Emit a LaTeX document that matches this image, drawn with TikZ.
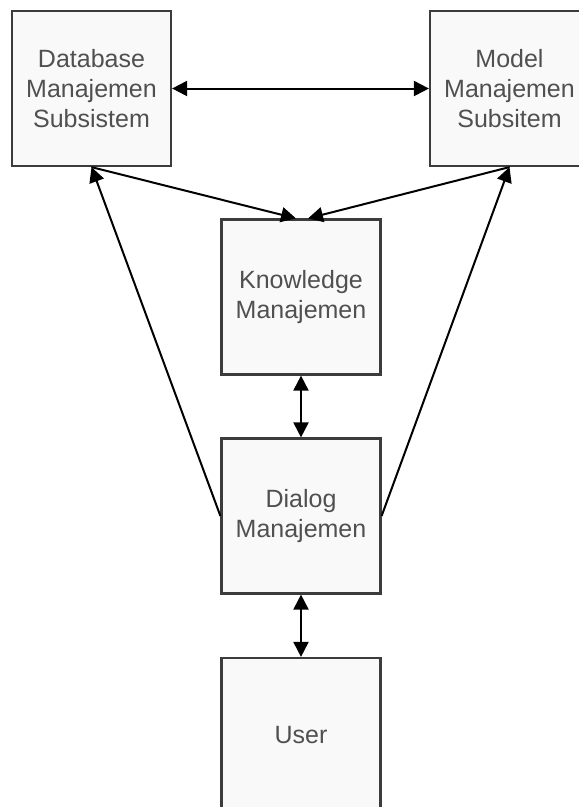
\documentclass[tikz,border=0pt]{standalone}
\usepackage{fontspec}
\setsansfont{Liberation Sans}
\usetikzlibrary{arrows.meta}
\definecolor{ink}{HTML}{505050}
\definecolor{edge}{HTML}{3C3C3C}
\definecolor{paper}{HTML}{F9F9F9}

\begin{document}
\begin{tikzpicture}[x=1pt,y=-1pt,font=\sffamily\fontsize{25}{30}\selectfont,>={Triangle[length=15pt,width=15pt]},
  box/.style={draw=edge,fill=paper,line width=2.2pt,minimum width=159pt,minimum height=155pt,
    inner sep=0pt,align=center,text=ink},
  link/.style={line width=2pt,black}]
  \useasboundingbox (0,0) rectangle (579,807);
  \node[box] (db) at (91.5,88.5) {Database\\Manajemen\\Subsistem};
  \node[box] (model) at (509.5,88.5) {Model\\Manajemen\\Subsitem};
  \node[box] (know) at (301,297) {Knowledge\\Manajemen};
  \node[box] (dialog) at (301,516) {Dialog\\Manajemen};
  \node[box] (user) at (301,735.5) {User};
  \draw[link,<->] (db.east) -- (model.west);
  \draw[link,->] (db.south) -- ([xshift=-5pt]know.north);
  \draw[link,->] (model.south) -- ([xshift=7pt]know.north);
  \draw[link,<->] (know.south) -- (dialog.north);
  \draw[link,<->] (dialog.south) -- (user.north);
  \draw[link,->] (dialog.west) -- (db.south);
  \draw[link,->] (dialog.east) -- (model.south);
\end{tikzpicture}
\end{document}
